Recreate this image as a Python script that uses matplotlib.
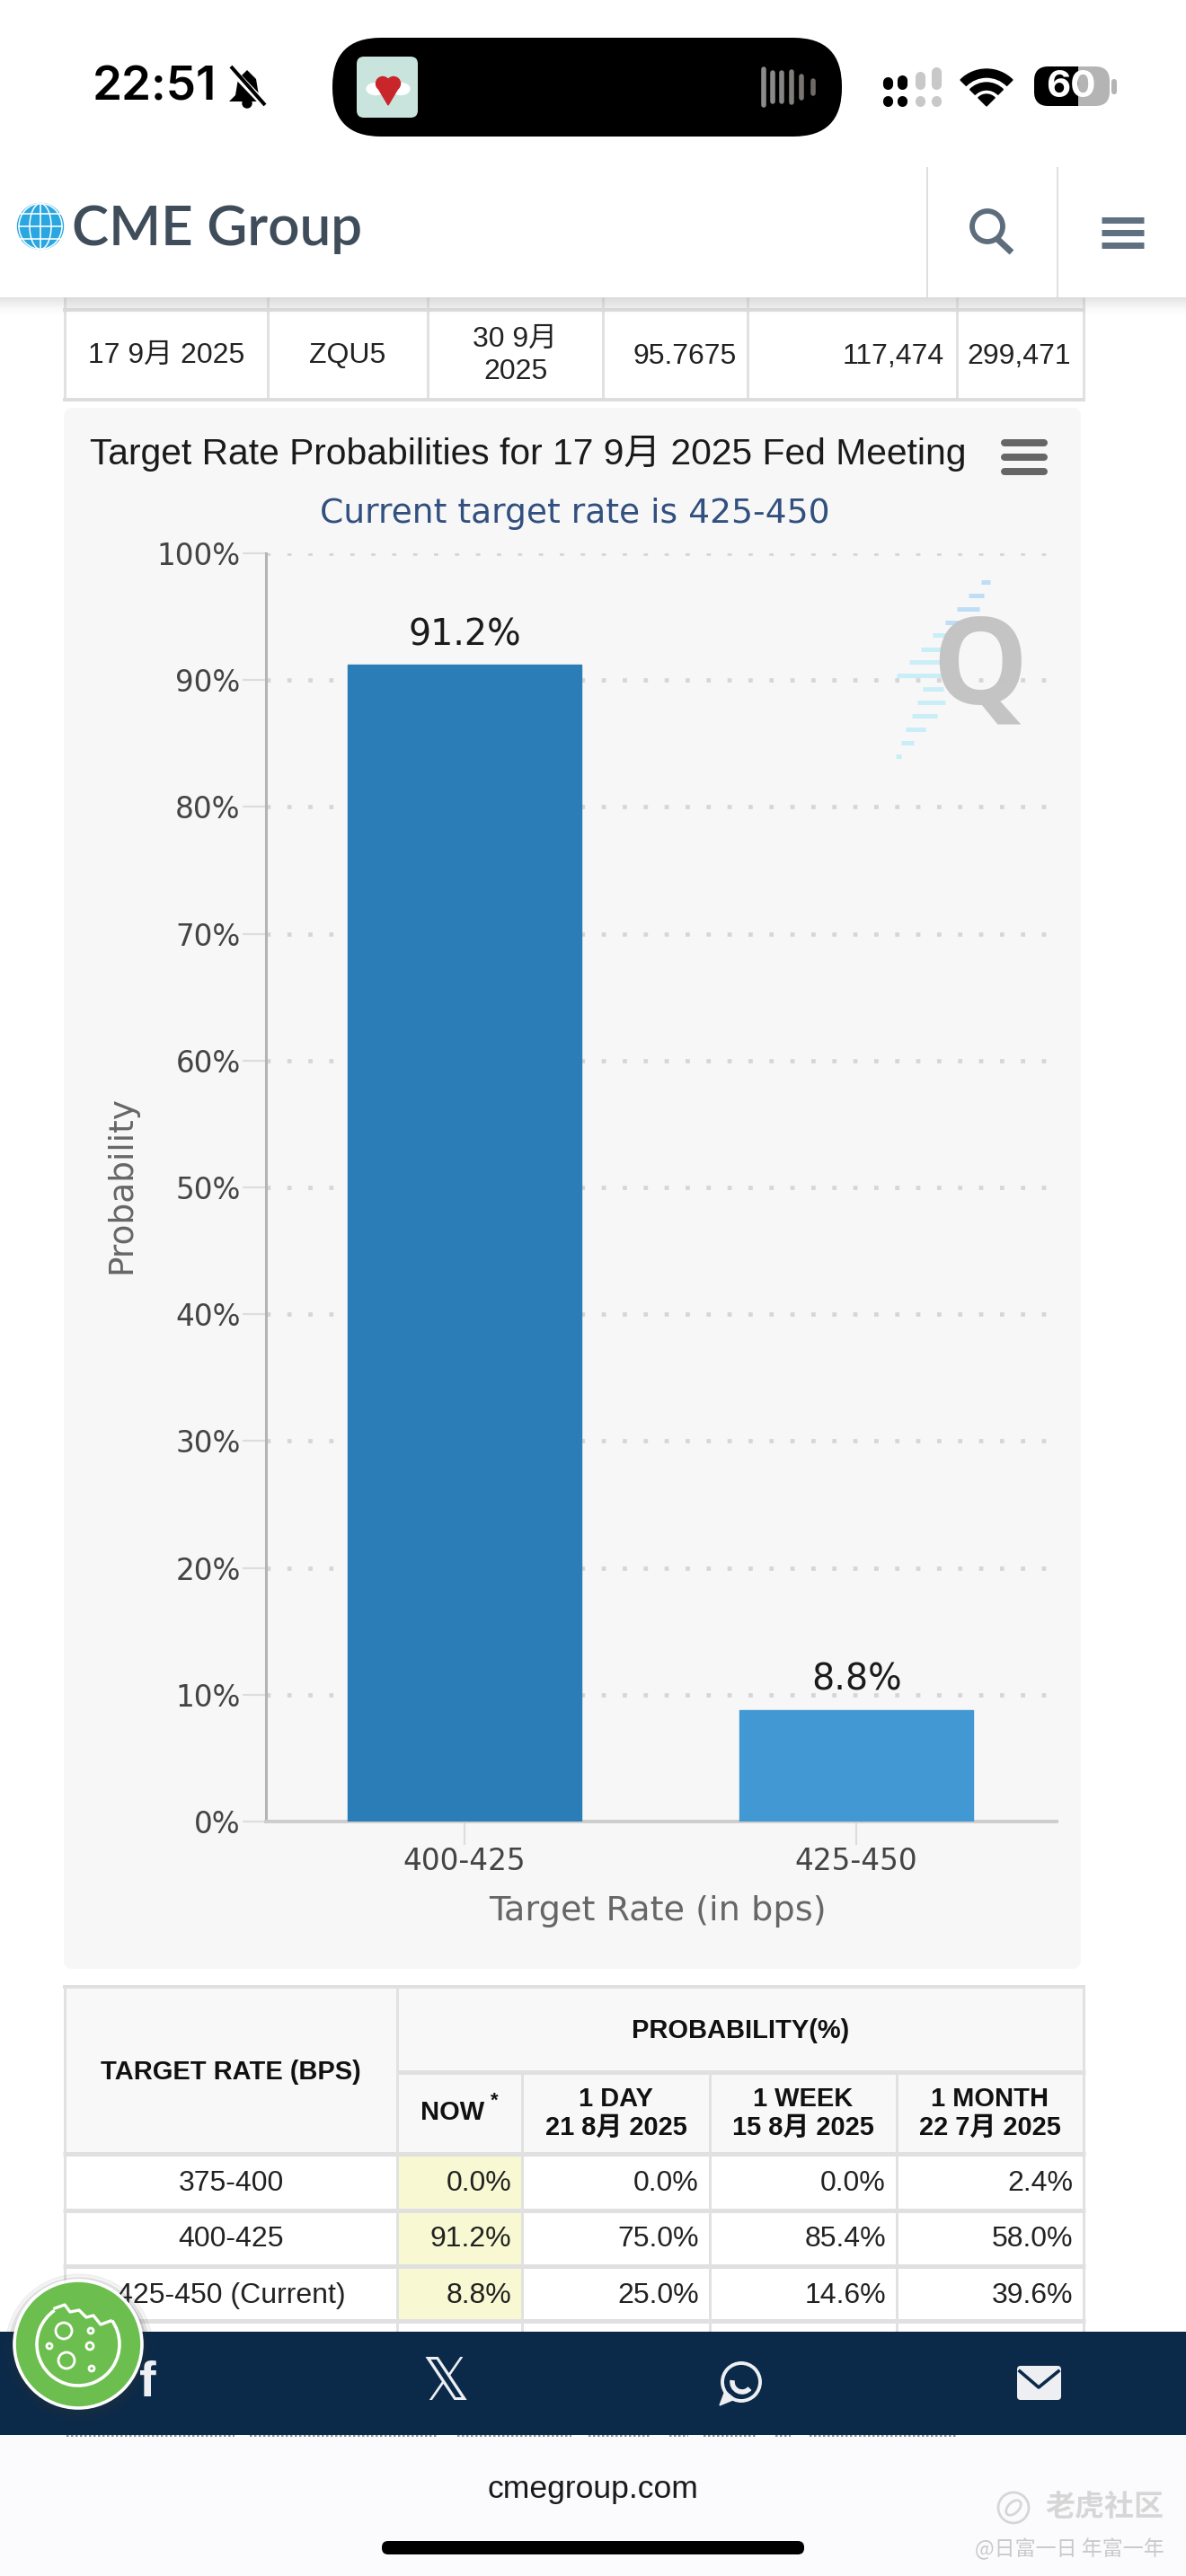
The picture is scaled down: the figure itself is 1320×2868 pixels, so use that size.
import matplotlib
matplotlib.use("Agg")
import matplotlib.pyplot as plt
from matplotlib.patches import Circle, Ellipse, FancyBboxPatch, Polygon, Rectangle, Wedge, Arc

W, H = 1320, 2868

# chart values
rate_labels = ["400-425", "425-450"]
rate_probs = [91.2, 8.8]
bar_colors = ["#2A7DB7", "#4198D3"]
y_ticks = [0, 10, 20, 30, 40, 50, 60, 70, 80, 90, 100]

# table above the chart
top_row = ["17 9月 2025", "ZQU5", "30 9月\n2025", "95.7675", "117,474", "299,471"]

# table below the chart
prob_headers = ["1 DAY\n21 8月 2025", "1 WEEK\n15 8月 2025", "1 MONTH\n22 7月 2025"]
target_rates = ["375-400", "400-425", "425-450 (Current)"]
prob_now = ["0.0%", "91.2%", "8.8%"]
prob_day = ["0.0%", "75.0%", "25.0%"]
prob_week = ["0.0%", "85.4%", "14.6%"]
prob_month = ["2.4%", "58.0%", "39.6%"]

ARIAL = ["Liberation Sans", "Noto Sans CJK SC"]
LINE = "#E1E1E1"

fig = plt.figure(figsize=(W / 100, H / 100), dpi=100, facecolor="white")


def pixel_axes(z):
    a = fig.add_axes([0, 0, 1, 1], zorder=z)
    a.set_xlim(0, W)
    a.set_ylim(H, 0)
    a.axis("off")
    a.patch.set_visible(False)
    return a


def txt(a, x, y, s, px, color="black", ha="center", family=ARIAL, weight="normal", **kw):
    return a.text(x, y, s, fontsize=px * 0.72, color=color, ha=ha, va="center",
                  family=family, weight=weight, **kw)


def rect(a, x0, y0, x1, y1, color, **kw):
    a.add_patch(Rectangle((x0, y0), x1 - x0, y1 - y0, facecolor=color, edgecolor="none", **kw))


def rrect(a, x0, y0, x1, y1, r, color, **kw):
    p = FancyBboxPatch((x0 + r, y0 + r), x1 - x0 - 2 * r, y1 - y0 - 2 * r,
                       boxstyle=f"round,pad={r},rounding_size={r}",
                       facecolor=color, edgecolor="none", **kw)
    a.add_patch(p)
    return p


def line(a, x0, y0, x1, y1, color=LINE, px=3, cap="butt", **kw):
    a.plot([x0, x1], [y0, y1], color=color, lw=px * 0.72, solid_capstyle=cap, **kw)


bg = pixel_axes(0)
fg = pixel_axes(2)

# ---- table above the chart
top_cols = [72, 298, 476, 671, 832, 1065, 1206]
rect(bg, 72, 331, 1206, 346, "#F4F4F4")
for x in top_cols:
    line(bg, x, 331, x, 446)
line(bg, 70, 345, 1208, 345, "#DDDDDD", 4)
line(bg, 70, 445, 1208, 445, "#DDDDDD", 4)
for i, s in enumerate(top_row):
    x0, x1 = top_cols[i], top_cols[i + 1]
    if i >= 3:
        xpos = x1 - 14 if i > 3 else x1 - 12
        txt(bg, xpos, 397, s, 32, "#222222", ha="right")
    else:
        txt(bg, (x0 + x1) / 2, 396, s, 32, "#222222", linespacing=1.3)

# ---- chart card
rrect(bg, 71, 454, 1203, 2192, 10, "#F7F7F7")
txt(bg, 100, 505, "Target Rate Probabilities for 17 9月 2025 Fed Meeting", 40.8, "#1A1A1A", ha="left")
txt(bg, 640, 572, "Current target rate is 425-450", 37.6, "#32507F", family="DejaVu Sans")
for y in (493, 509, 525):
    line(bg, 1118, y, 1162, y, "#666666", 8, cap="round")

# Q watermark
stripes = [(205, 575, 605), (248, 535, 585), (293, 495, 570), (338, 455, 520),
           (382, 415, 460), (428, 375, 450), (472, 335, 450), (516, 295, 450),
           (562, 380, 450), (606, 362, 455), (651, 345, 430), (695, 325, 390),
           (741, 310, 350), (785, 290, 310)]
for yz, xa, xb in stripes:
    col = "#BFDDF6" if yz < 340 else "#C9EEF8"
    line(fg, 900 + xa / 3, 580 + yz / 3, 900 + xb / 3, 580 + yz / 3, col, 5)
txt(fg, 1091, 748, "Q", 134, "#C2C2C2", family="Open Sans", weight="bold", alpha=0.95)

# ---- the chart
ax = fig.add_axes([296 / W, 1 - 2028 / H, 880 / W, 1412 / H], zorder=1)
ax.patch.set_visible(False)
bars = ax.bar(range(len(rate_probs)), rate_probs, width=0.595, color=bar_colors,
              edgecolor=bar_colors, linewidth=1, zorder=3)
ax.bar_label(bars, labels=[f"{v}%" for v in rate_probs], padding=9.5, fontsize=28.5,
             color="#1A1A1A", family="DejaVu Sans")
ax.set_xlim(-0.507, 1.511)
ax.set_ylim(0, 100)
ax.set_xticks(range(len(rate_labels)))
ax.set_xticklabels(rate_labels)
ax.set_yticks(y_ticks)
ax.set_yticklabels([f"{v}%" for v in y_ticks])
ax.tick_params(axis="both", labelsize=23.5, labelcolor="#444444", color="#DDDDDD",
               width=1.6, length=19, pad=1.5)
ax.grid(axis="y", color="#D6D6D6", lw=3.4, linestyle=(0, (1, 3.94)), dash_capstyle="butt", zorder=1)
ax.set_axisbelow(True)
ax.set_ylabel("Probability", fontsize=27, color="#666666", labelpad=15, y=0.502)
ax.set_xlabel("Target Rate (in bps)", fontsize=27.5, color="#666666", labelpad=15, x=0.495)
for side in ("top", "right"):
    ax.spines[side].set_visible(False)
ax.spines["left"].set_color("#B4B4B4")
ax.spines["left"].set_linewidth(2.2)
ax.spines["bottom"].set_color("#CDCDCD")
ax.spines["bottom"].set_linewidth(2.8)

# ---- table below the chart
cols = [72, 442, 581, 790, 998, 1206]
rows = [2398, 2461, 2523, 2584, 2600]
rect(bg, 72, 2212, 1206, 2398, "#F8F8F8")
rect(bg, 442, 2398, 581, 2584, "#F8F9D2")
line(bg, 70, 2212, 1208, 2212, "#E0E0E0", 4)
line(bg, 442, 2307, 1208, 2307, "#E0E0E0", 5)
for y in rows[:4]:
    line(bg, 70, y, 1208, y, "#E0E0E0", 5)
for x in cols:
    line(bg, x, 2307 if x in (581, 790, 998) else 2212, x, 2600)
txt(bg, 257, 2307, "TARGET RATE (BPS)", 29, "#111111", weight="bold")
txt(bg, 824, 2261, "PROBABILITY(%)", 29, "#111111", weight="bold")
txt(bg, 504, 2352, "NOW", 29, "#111111", weight="bold")
txt(bg, 550, 2339, "*", 22, "#111111", weight="bold")
for i, s in enumerate(prob_headers):
    txt(bg, (cols[i + 2] + cols[i + 3]) / 2, 2353, s, 29, "#111111", weight="bold", linespacing=1.15)
row_y = [2431, 2493, 2556]
for i, y in enumerate(row_y):
    txt(bg, 257, y, target_rates[i], 32, "#222222")
    for j, series in enumerate((prob_now, prob_day, prob_week, prob_month)):
        txt(bg, cols[j + 2] - 12, y, series[i], 32, "#222222", ha="right")

# ---- status bar
txt(fg, 103, 98, "22:51", 53, "black", ha="left", family="Inter", weight="semibold")
fg.add_patch(Polygon([(275, 78), (285, 88), (288, 106), (295, 113), (255, 113), (262, 106), (265, 88)],
                     closed=True, facecolor="black", edgecolor="none"))
fg.add_patch(Circle((275, 115), 5, color="black"))
line(fg, 257, 77, 296, 118, "white", 8)
line(fg, 257, 74, 295, 117, "black", 4)

rrect(fg, 370, 42, 937, 152, 54, "black")
rrect(fg, 397, 63, 465, 131, 8, "#C8E4DD")
fg.add_patch(Ellipse((418, 99), 20, 13, color="white"))
fg.add_patch(Ellipse((446, 99), 20, 13, color="white"))
fg.add_patch(Circle((426, 93), 7.5, color="#C9262C"))
fg.add_patch(Circle((438, 93), 7.5, color="#C9262C"))
fg.add_patch(Polygon([(419, 95), (445, 95), (432, 117)], closed=True, color="#C9262C"))
for x, hh, c in [(850, 20, "#8C8C8C"), (860, 16, "#8A8A8A"), (870, 16, "#858585"),
                 (881, 17, "#807D7A"), (892, 12, "#7A7570"), (905, 7, "#706A66")]:
    fg.plot([x, x], [97 - hh, 97 + hh], color=c, lw=4, solid_capstyle="round")

for x, t, c in [(988, 91, "black"), (1004, 89, "black"), (1024, 85, "#C8C8C8"), (1042, 80, "#C8C8C8")]:
    fg.plot([x, x], [t, 94], color=c, lw=8, solid_capstyle="round")
    fg.plot([x, x], [112, 113], color=c, lw=8, solid_capstyle="round")

fg.add_patch(Wedge((1098, 118), 41, 225, 315, width=9, color="black"))
fg.add_patch(Wedge((1098, 118), 26, 225, 315, width=8, color="black"))
fg.add_patch(Wedge((1098, 118), 13, 225, 315, color="black"))

rrect(fg, 1151, 74, 1235, 118, 16, "#B4B4B4")
blk = rrect(fg, 1151, 74, 1235, 118, 16, "black")
clip = Rectangle((1151, 74), 49, 44, transform=fg.transData)
blk.set_clip_path(clip)
rrect(fg, 1237, 88, 1243, 105, 3, "#B4B4B4")
txt(fg, 1192, 97, "60", 42, "white", family="Inter", weight="bold")

# ---- nav bar
for i in range(20):
    rect(fg, 0, 331 + i, W, 332 + i, "#777777", alpha=0.2 * (1 - i / 20) ** 1.5)
rect(fg, 0, 186, W, 331, "white")
line(fg, 1032, 186, 1032, 331, "#DEDEDE", 2)
line(fg, 1177, 186, 1177, 331, "#DEDEDE", 2)
fg.add_patch(Circle((45, 252), 25.5, color="#2AA7E1"))
for w_ in (48, 24):
    fg.add_patch(Ellipse((45, 252), w_, 51, facecolor="none", edgecolor="white", lw=1.1))
line(fg, 45, 227, 45, 277, "white", 1.6)
for y in (238, 252, 266):
    line(fg, 20, y, 70, y, "white", 1.6)
txt(fg, 80, 255, "CME Group", 62, "#3F4C59", ha="left", family="Lato", weight="semibold")
fg.add_patch(Circle((1099, 252), 17, facecolor="none", edgecolor="#5D6D7C", lw=4.2))
line(fg, 1110, 266, 1126, 281, "#5D6D7C", 7)
for y in (245, 259, 273):
    line(fg, 1226, y, 1273, y, "#5F7080", 7)

# ---- share bar and footer
rect(fg, 0, 2596, W, 2711, "#0B2A4A")
rect(fg, 0, 2711, W, H, "#FBFBFD")
word_spans = [(88, 310), (330, 580), (605, 755), (778, 860), (885, 910), (930, 1000), (1025, 1045), (1070, 1265)]
for xa, xb in word_spans:
    fg.plot([xa / 1.188, xb / 1.188], [2712, 2712], color="#777777", lw=1.2, linestyle=(0, (1.5, 1.5)))

txt(fg, 164, 2654, "f", 56, "#EDEFF2", family="Liberation Sans", weight="bold")
txt(fg, 496, 2654, "𝕏", 66, "#EDEFF2", family="DejaVu Sans")
fg.add_patch(Circle((825, 2652), 21, facecolor="none", edgecolor="#EDEFF2", lw=2.8))
fg.add_patch(Polygon([(807, 2662), (801, 2678), (818, 2671)], closed=True, color="#EDEFF2"))
fg.add_patch(Arc((826, 2652), 22, 22, theta1=40, theta2=190, edgecolor="#EDEFF2", lw=4))
rrect(fg, 1132, 2634, 1181, 2672, 4, "#EDEFF2")
fg.plot([1135, 1156, 1178], [2640, 2658, 2640], color="#0B2A4A", lw=2.6)

txt(fg, 660, 2772, "cmegroup.com", 35.5, "#1A1A1A", family="Liberation Sans")
rrect(fg, 425, 2829, 895, 2844, 7, "black")

# watermark
fg.add_patch(Circle((1128, 2792), 17, facecolor="none", edgecolor="#D6D6D6", lw=2))
fg.add_patch(Arc((1128, 2792), 20, 12, angle=-45, edgecolor="#D6D6D6", lw=2))
txt(fg, 1229, 2792, "老虎社区", 33, "#D6D6D6", family=["Noto Sans CJK SC"], weight="bold")
txt(fg, 1190, 2838, "@日富一日 年富一年", 23, "#C9C9C9", family=["Noto Sans CJK SC", "DejaVu Sans"])

# cookie button
for r, al in [(82, 0.05), (78, 0.08), (75, 0.12)]:
    fg.add_patch(Circle((88, 2614), r, color="#333333", alpha=al))
fg.add_patch(Circle((87, 2610), 71, facecolor="#6CBF4F", edgecolor="white", lw=2.6))
fg.add_patch(Arc((87, 2610), 92, 92, theta1=-35, theta2=235, edgecolor="white", lw=2.6))
fg.plot([61, 72, 78, 88, 96, 104, 112, 123], [2570, 2566, 2574, 2572, 2580, 2578, 2588, 2584],
        color="white", lw=2.4)
for cx, cy, r in [(71, 2595, 9), (74, 2628, 9), (100, 2612, 4), (101, 2595, 3), (102, 2637, 3), (55, 2612, 3)]:
    fg.add_patch(Circle((cx, cy), r, facecolor="none", edgecolor="white", lw=2))

fig.savefig("out.png", dpi=100)
